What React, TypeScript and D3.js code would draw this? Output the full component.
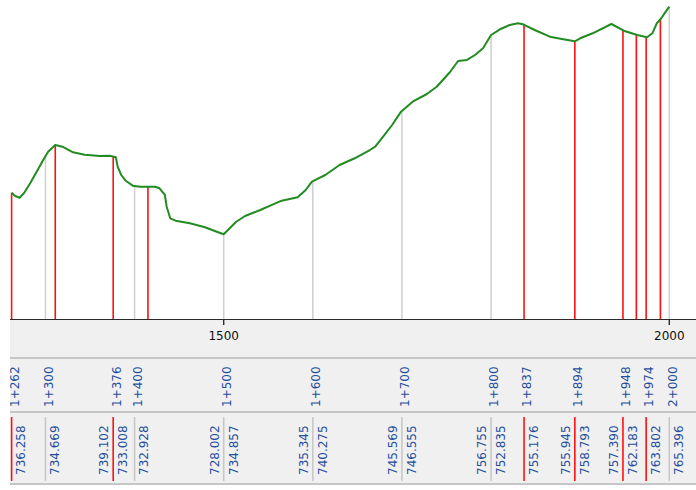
import React from "react";
import * as d3 from "d3";

// Ground profile (station in m, elevation in m)
const profileStations = [1262, 1266, 1271, 1276, 1283, 1290, 1297, 1303, 1311, 1319, 1331, 1344, 1361, 1372, 1379, 1381, 1385, 1390, 1398, 1406, 1423, 1428, 1434, 1436, 1440, 1446, 1462, 1479, 1490, 1500, 1514, 1524, 1541, 1558, 1565, 1583, 1592, 1599, 1614, 1630, 1647, 1664, 1670, 1678, 1689, 1699, 1712, 1728, 1739, 1754, 1763, 1773, 1782, 1791, 1800, 1810, 1821, 1830, 1836, 1849, 1866, 1881, 1894, 1900, 1914, 1935, 1949, 1964, 1975, 1981, 1986, 1991, 1996, 2000];
const profileElevations = [734.79, 734.24, 733.96, 734.74, 736.38, 738.19, 740.05, 741.53, 742.64, 742.36, 741.44, 741.04, 740.83, 740.88, 740.61, 739.07, 737.7, 736.76, 735.94, 735.77, 735.77, 735.51, 734.41, 732.48, 730.57, 730.18, 729.75, 729.09, 728.48, 727.94, 730.01, 730.95, 731.94, 733.04, 733.47, 734.03, 735.23, 736.6, 737.7, 739.35, 740.45, 741.81, 742.36, 743.84, 745.93, 748.12, 749.76, 751.03, 752.23, 754.65, 756.46, 756.63, 757.45, 758.55, 760.74, 761.68, 762.39, 762.67, 762.5, 761.56, 760.46, 760.03, 759.7, 760.2, 761.02, 762.55, 761.45, 760.74, 760.36, 761.02, 762.67, 763.49, 764.58, 765.4];

// Key points (red) and regular grid stations (gray)
const keyStations = [1262, 1311, 1376, 1415, 1837, 1894, 1948, 1963, 1974, 1990];
const gridStations = [1300, 1400, 1500, 1600, 1700, 1800, 2000];

// Axis ticks
const axisTicks = [1500, 2000];

// Table rows
const labelStations = [1262, 1300, 1376, 1400, 1500, 1600, 1700, 1800, 1837, 1894, 1948, 1974, 2000];
const stationLabels = ["1+262", "1+300", "1+376", "1+400", "1+500", "1+600", "1+700", "1+800", "1+837", "1+894", "1+948", "1+974", "2+000"];
const leftElevLabels = ["", "", "739.102", "", "728.002", "735.345", "745.569", "756.755", "", "755.945", "757.390", "", ""];
const rightElevLabels = ["736.258", "734.669", "733.008", "732.928", "734.857", "740.275", "746.555", "752.835", "755.176", "758.793", "762.183", "763.802", "765.396"];
const redSeparatorStations = [1262, 1376, 1837, 1894, 1948, 1974];

const W = 696;
const H = 490;
const LEFT = 10;
const AXIS_Y = 319;
const FONT = "DejaVu Sans, Verdana, sans-serif";
const BLUE = "#1f4f9e";

export default function App() {
  const x = d3.scaleLinear().domain([1500, 2000]).range([223.7, 669.3]);
  const y = d3.scaleLinear().domain([714, 766.5]).range([AXIS_Y, 0]);
  const ground = d3.scaleLinear().domain(profileStations).range(profileElevations).clamp(true);

  const pts: [number, number][] = profileStations.map((s, i) => [s, profileElevations[i]]);
  const line = d3
    .line<[number, number]>()
    .x((d) => x(d[0]))
    .y((d) => y(d[1]))
    .curve(d3.curveLinear);

  return (
    <div style={{ position: "fixed", left: 0, top: 0, width: W, height: H, background: "#fff" }}>
      <svg width={W} height={H} style={{ display: "block" }} fontFamily={FONT}>
        <defs>
          <clipPath id="clip">
            <rect x={LEFT} y={0} width={W - LEFT} height={H} />
          </clipPath>
        </defs>
        <g clipPath="url(#clip)">
          {/* plot background */}
          <rect x={LEFT} y={0} width={W - LEFT} height={AXIS_Y} fill="#fff" />
          {/* gray grid verticals */}
          {gridStations.map((s) => (
            <line key={"g" + s} x1={x(s)} x2={x(s)} y1={y(ground(s))} y2={AXIS_Y} stroke="#d2d2d2" strokeWidth={1.6} />
          ))}
          {/* red key verticals */}
          {keyStations.map((s) => (
            <line key={"k" + s} x1={x(s)} x2={x(s)} y1={y(ground(s))} y2={AXIS_Y} stroke="#ff1010" strokeWidth={1.6} />
          ))}
          {/* profile line */}
          <path d={line(pts) || ""} fill="none" stroke="#228b22" strokeWidth={2} strokeLinejoin="round" />

          {/* lower panel */}
          <rect x={LEFT} y={AXIS_Y} width={W - LEFT} height={164} fill="#f0f0f0" />
          <line x1={LEFT} x2={W} y1={AXIS_Y + 0.5} y2={AXIS_Y + 0.5} stroke="#2a2a2a" strokeWidth={1.2} />
          {axisTicks.map((t) => (
            <g key={"t" + t}>
              <line x1={x(t)} x2={x(t)} y1={AXIS_Y} y2={AXIS_Y + 6} stroke="#2a2a2a" strokeWidth={1.4} />
              <text x={x(t)} y={340} textAnchor="middle" fontSize={12} fill="#111">
                {t}
              </text>
            </g>
          ))}
          {/* row separators */}
          <rect x={LEFT} y={357} width={W - LEFT} height={2} fill="#c6c6c6" />
          <rect x={LEFT} y={411} width={W - LEFT} height={2} fill="#c6c6c6" />
          <rect x={LEFT} y={483} width={W - LEFT} height={2} fill="#c6c6c6" />

          {/* station labels */}
          {labelStations.map((s, i) => (
            <text
              key={"s" + s}
              transform={`translate(${x(s) + 3},407) rotate(-90)`}
              dy="0.36em"
              fontSize={12}
              fill={BLUE}
            >
              {stationLabels[i]}
            </text>
          ))}

          {/* elevation separators */}
          {labelStations.map((s) => (
            <line
              key={"e" + s}
              x1={x(s)}
              x2={x(s)}
              y1={417}
              y2={481}
              stroke={redSeparatorStations.includes(s) ? "#ff1010" : "#c8c8c8"}
              strokeWidth={1.6}
            />
          ))}
          {labelStations.map((s, i) => (
            <g key={"el" + s}>
              {leftElevLabels[i] && (
                <text transform={`translate(${x(s) - 9.5},475) rotate(-90)`} dy="0.36em" fontSize={12} fill={BLUE}>
                  {leftElevLabels[i]}
                </text>
              )}
              {rightElevLabels[i] && (
                <text transform={`translate(${x(s) + 9.5},475) rotate(-90)`} dy="0.36em" fontSize={12} fill={BLUE}>
                  {rightElevLabels[i]}
                </text>
              )}
            </g>
          ))}
        </g>
      </svg>
    </div>
  );
}
